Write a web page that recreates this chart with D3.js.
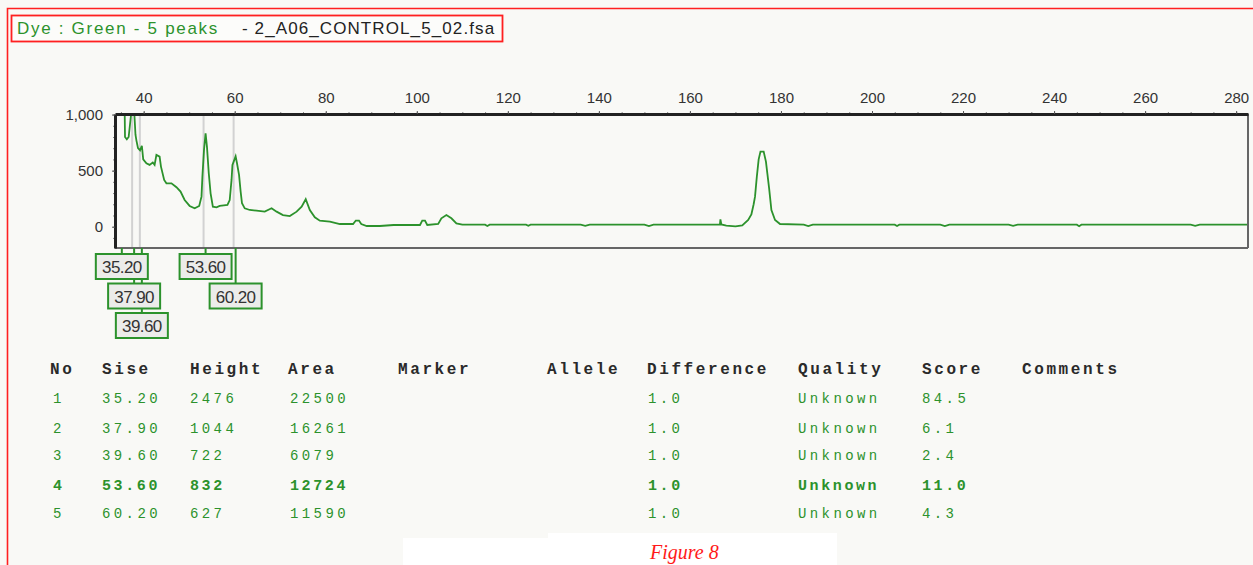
<!DOCTYPE html>
<html>
<head>
<meta charset="utf-8">
<script src="https://cdn.jsdelivr.net/npm/d3@7"></script>
<style>
  html, body { margin: 0; padding: 0; background: #f9f9f6; }
  svg { display: block; }
</style>
</head>
<body>
<svg id="chart" width="1253" height="565"></svg>
<script>
// Electropherogram trace for the green dye: [size (bp), signal (RFU)]
const trace = [
  [34.6, 1300], [35.2, 2476], [35.7, 1400], [35.9, 800], [36.3, 780], [36.7, 800],
  [37.2, 990], [37.9, 1044], [38.2, 820], [38.4, 770], [38.75, 700], [39.2, 680],
  [39.6, 722], [39.9, 600], [40.6, 566], [41.3, 551], [42.0, 572], [42.4, 551],
  [42.8, 640], [43.5, 625], [43.8, 536], [44.5, 417], [45.0, 387], [46.1, 387],
  [47.2, 352], [48.1, 313], [49.0, 238], [50.1, 185], [51.2, 164], [52.2, 185],
  [52.7, 268], [52.9, 446], [53.25, 685], [53.6, 832], [53.9, 714], [54.3, 477],
  [54.7, 298], [55.2, 179], [56.0, 173], [56.7, 185], [57.6, 190], [58.4, 194],
  [58.9, 238], [59.3, 417], [59.5, 551], [60.2, 627], [60.5, 566], [60.95, 462],
  [61.3, 313], [61.6, 209], [62.2, 164], [63.3, 149], [64.8, 143], [66.6, 134],
  [68.1, 164], [69.2, 134], [70.6, 104], [72.1, 95], [73.6, 134], [74.7, 179],
  [75.6, 245], [76.5, 149], [77.6, 84], [78.7, 54], [80.9, 45], [83.1, 24],
  [86.0, 24], [86.6, 55], [87.3, 55], [87.8, 24], [89.0, 6], [91.9, 6],
  [94.9, 15], [100.7, 15], [101.2, 54], [101.8, 54], [102.3, 15], [104.7, 24],
  [105.4, 75], [106.5, 104], [107.6, 75], [108.7, 30], [110, 18], [115, 18],
  [115.5, 6], [116, 18], [124, 18], [124.5, 8], [125, 18], [136, 18], [137, 8],
  [138, 18], [150, 18], [151, 5], [152, 18], [164, 18], [166.6, 20], [166.7, 66],
  [166.9, 20], [168, 10], [170, 3], [171.5, 12], [172.8, 60], [173.5, 110],
  [174.0, 200], [174.3, 268], [174.7, 446], [175.1, 600], [175.5, 670], [176.2, 670],
  [176.7, 580], [177.0, 477], [177.4, 342], [177.9, 149], [178.7, 60], [179.8, 24],
  [185, 18], [186, 6], [187, 18], [205, 18], [205.5, 6], [206, 18], [215, 18],
  [216, 6], [217, 18], [230, 18], [231, 8], [232, 18], [245, 18], [245.5, 5],
  [246, 18], [270, 18], [271, 8], [272, 18], [283, 18]
];

// Called peaks table
const peakNo = [1, 2, 3, 4, 5];
const peakSize = [35.20, 37.90, 39.60, 53.60, 60.20];
const peakHeight = [2476, 1044, 722, 832, 627];
const peakArea = [22500, 16261, 6079, 12724, 11590];
const peakDifference = ["1.0", "1.0", "1.0", "1.0", "1.0"];
const peakQuality = ["Unknown", "Unknown", "Unknown", "Unknown", "Unknown"];
const peakScore = ["84.5", "6.1", "2.4", "11.0", "4.3"];
const labelRow = [0, 1, 2, 0, 1];

// Axis ticks
const sizeTicks = [40, 60, 80, 100, 120, 140, 160, 180, 200, 220, 240, 260, 280];
const sizeMinorTicks = d3.range(35, 285, 5);
const rfuTicks = [0, 500, 1000];
const rfuMinorTicks = d3.range(-100, 1001, 100);

const headers = ["No", "Sise", "Height", "Area", "Marker", "Allele", "Difference", "Quality", "Score", "Comments"];

const GREEN = "#2c922c";
const svg = d3.select("#chart");

// outer frame
svg.append("path")
  .attr("d", "M7.5,566 V8.5 H1256")
  .attr("fill", "none").attr("stroke", "#ff2020").attr("stroke-width", 1.6);

// title box
svg.append("rect")
  .attr("x", 11.5).attr("y", 15.5).attr("width", 491).attr("height", 26)
  .attr("fill", "#fcfcfa").attr("stroke", "#ff2020").attr("stroke-width", 1.8);
svg.append("text")
  .attr("x", 17).attr("y", 34)
  .attr("font-family", "Liberation Sans, Arial, sans-serif").attr("font-size", 17)
  .attr("letter-spacing", 1.7).attr("fill", GREEN)
  .text("Dye : Green - 5 peaks");
svg.append("text")
  .attr("x", 242).attr("y", 34)
  .attr("font-family", "Liberation Sans, Arial, sans-serif").attr("font-size", 17)
  .attr("letter-spacing", 1.1).attr("fill", "#222")
  .text("- 2_A06_CONTROL_5_02.fsa");

// scales
const x = d3.scaleLinear().domain([33.7, 282.6]).range([115, 1248]);
const y = d3.scaleLinear().domain([-190, 1005]).range([248, 114]);
const [x0, x1] = x.range();
const [y1, y0] = y.range();

svg.append("clipPath").attr("id", "plotClip")
  .append("rect").attr("x", x0).attr("y", y0).attr("width", x1 - x0).attr("height", y1 - y0);

// peak marker lines inside the plot
svg.append("g").selectAll("line")
  .data(peakSize.slice(1))
  .join("line")
  .attr("x1", d => x(d) - 2).attr("x2", d => x(d) - 2)
  .attr("y1", y0).attr("y2", y1)
  .attr("stroke", "#d2d2d2").attr("stroke-width", 2);

// trace
const line = d3.line().x(d => x(d[0])).y(d => y(d[1]));
svg.append("path")
  .datum(trace)
  .attr("clip-path", "url(#plotClip)")
  .attr("d", line)
  .attr("fill", "none").attr("stroke", GREEN).attr("stroke-width", 1.8)
  .attr("stroke-linejoin", "miter");

// plot frame: heavy top/left, light right/bottom
svg.append("line").attr("x1", x1).attr("x2", x1).attr("y1", y0).attr("y2", y1)
  .attr("stroke", "#666").attr("stroke-width", 2);
svg.append("line").attr("x1", x0).attr("x2", x1).attr("y1", y1).attr("y2", y1)
  .attr("stroke", "#666").attr("stroke-width", 2);

// top size axis
const topAxis = svg.append("g").attr("transform", `translate(0,${y0})`);
topAxis.append("g")
  .call(d3.axisTop(x).tickValues(sizeMinorTicks).tickSize(2).tickFormat(""))
  .call(g => g.select(".domain").remove())
  .selectAll("line").attr("stroke", "#888");
topAxis.append("g")
  .call(d3.axisTop(x).tickValues(sizeTicks).tickSize(3).tickPadding(8).tickSizeOuter(0))
  .call(g => g.select(".domain").attr("stroke", "#222").attr("stroke-width", 3))
  .call(g => g.selectAll("line").attr("stroke", "#555"))
  .call(g => g.selectAll("text")
    .attr("font-family", "Liberation Sans, Arial, sans-serif")
    .attr("font-size", 15).attr("fill", "#333"));

// left RFU axis
const leftAxis = svg.append("g").attr("transform", `translate(${x0},0)`);
leftAxis.append("g")
  .call(d3.axisLeft(y).tickValues(rfuMinorTicks).tickSize(2).tickFormat(""))
  .call(g => g.select(".domain").remove())
  .selectAll("line").attr("stroke", "#888");
leftAxis.append("g")
  .call(d3.axisLeft(y).tickValues(rfuTicks).tickSize(3).tickPadding(9).tickSizeOuter(0)
    .tickFormat(d3.format(",")))
  .call(g => g.select(".domain").attr("stroke", "#222").attr("stroke-width", 3))
  .call(g => g.selectAll("line").attr("stroke", "#555"))
  .call(g => g.selectAll("text")
    .attr("font-family", "Liberation Sans, Arial, sans-serif")
    .attr("font-size", 15).attr("fill", "#333"));

// peak size labels below the plot
const rowTop = r => 254 + r * 29.5;
const boxW = 52, boxH = 25;
const peaks = peakSize.map((s, i) => ({ s, r: labelRow[i] }));
svg.append("g").selectAll("line")
  .data(peaks)
  .join("line")
  .attr("x1", d => x(d.s)).attr("x2", d => x(d.s))
  .attr("y1", y1).attr("y2", d => rowTop(d.r))
  .attr("stroke", GREEN).attr("stroke-width", 2);
const lab = svg.append("g").selectAll("g")
  .data(peaks)
  .join("g")
  .attr("transform", d => `translate(${x(d.s) - boxW / 2},${rowTop(d.r)})`);
lab.append("rect")
  .attr("width", boxW).attr("height", boxH)
  .attr("fill", "#ececea").attr("stroke", GREEN).attr("stroke-width", 2);
lab.append("text")
  .attr("x", boxW / 2).attr("y", 19)
  .attr("text-anchor", "middle")
  .attr("font-family", "Liberation Sans, Arial, sans-serif").attr("font-size", 17)
  .attr("letter-spacing", -0.6).attr("fill", "#333")
  .text(d => d.s.toFixed(2));

// peak table
const colX = [50, 102, 190, 288, 398, 547, 647, 798, 922, 1022];
svg.append("g").selectAll("text")
  .data(headers)
  .join("text")
  .attr("x", (d, i) => colX[i]).attr("y", 374)
  .attr("font-family", "Liberation Mono, Courier New, monospace")
  .attr("font-weight", "bold").attr("font-size", 16).attr("letter-spacing", 2.6)
  .attr("fill", "#2a2a2a")
  .text(d => d);

const rowY = [403, 433, 460, 490, 518];
const rows = peakNo.map((n, i) => [
  [colX[0] + 3, String(n)],
  [colX[1], peakSize[i].toFixed(2)],
  [colX[2], String(peakHeight[i])],
  [colX[3] + 2, String(peakArea[i])],
  [colX[6] + 1, peakDifference[i]],
  [colX[7], peakQuality[i]],
  [colX[8], peakScore[i]]
].map(c => ({ x: c[0], t: c[1], y: rowY[i], big: i === 3 })));

svg.append("g").selectAll("text")
  .data(rows.flat())
  .join("text")
  .attr("x", d => d.x).attr("y", d => d.y)
  .attr("font-family", "Liberation Mono, Courier New, monospace")
  .attr("font-weight", d => d.big ? "bold" : "normal")
  .attr("font-size", d => d.big ? 15 : 14)
  .attr("letter-spacing", d => d.big ? 2.6 : 3.4)
  .attr("fill", GREEN)
  .text(d => d.t);

// caption panel
svg.append("path")
  .attr("d", "M403,538 H548 V533 H837 V565 H403 Z")
  .attr("fill", "#ffffff");
svg.append("text")
  .attr("x", 650).attr("y", 559)
  .attr("font-family", "Liberation Serif, Times New Roman, serif")
  .attr("font-style", "italic").attr("font-size", 20)
  .attr("fill", "#ff1a1a")
  .text("Figure 8");
</script>
</body>
</html>
